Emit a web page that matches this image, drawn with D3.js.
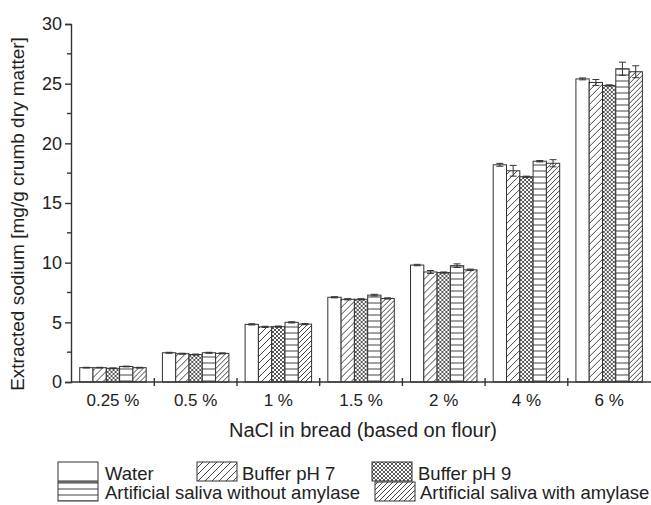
<!DOCTYPE html>
<html><head><meta charset="utf-8">
<script src="https://cdn.jsdelivr.net/npm/d3@7/dist/d3.min.js"></script>
<style>body{margin:0;background:#fff}svg{display:block}text{font-family:"Liberation Sans",Arial,sans-serif;fill:#222}</style>
</head><body><svg id="c" width="651" height="505"></svg>
<script>
const categories = ["0.25 %","0.5 %","1 %","1.5 %","2 %","4 %","6 %"];
const seriesNames = ["Water","Buffer pH 7","Buffer pH 9","Artificial saliva without amylase","Artificial saliva with amylase"];
const water    = [1.2, 2.45, 4.83, 7.1, 9.8, 18.2, 25.4];
const buffer7  = [1.2, 2.37, 4.62, 6.93, 9.22, 17.7, 25.1];
const buffer9  = [1.15, 2.3, 4.64, 6.93, 9.17, 17.2, 24.85];
const salivaWo = [1.3, 2.45, 5.0, 7.28, 9.75, 18.5, 26.25];
const salivaW  = [1.2, 2.4, 4.85, 7.0, 9.4, 18.33, 26.0];
const errWater    = [0.03, 0.04, 0.05, 0.05, 0.06, 0.12, 0.08];
const errBuffer7  = [0.03, 0.04, 0.05, 0.05, 0.12, 0.45, 0.25];
const errBuffer9  = [0.03, 0.04, 0.05, 0.05, 0.05, 0.05, 0.05];
const errSalivaWo = [0.03, 0.04, 0.05, 0.07, 0.15, 0.06, 0.55];
const errSalivaW  = [0.03, 0.04, 0.05, 0.05, 0.06, 0.3, 0.5];
const yTicks = [0, 5, 10, 15, 20, 25, 30];

const values = [water, buffer7, buffer9, salivaWo, salivaW];
const errors = [errWater, errBuffer7, errBuffer9, errSalivaWo, errSalivaW];
const fills = ["#fff","url(#p7)","url(#p9)","url(#ph)","url(#pw)"];
const ink = "#333";

const svg = d3.select("#c");
const defs = svg.append("defs");
function diag(id, s){
  const p = defs.append("pattern").attr("id",id).attr("patternUnits","userSpaceOnUse").attr("width",s).attr("height",s);
  p.append("rect").attr("width",s).attr("height",s).attr("fill","#fff");
  p.append("path").attr("d",`M0,${s} L${s},0 M${-s/2},${s/2} L${s/2},${-s/2} M${s/2},${s*1.5} L${s*1.5},${s/2}`).attr("stroke","#444").attr("stroke-width",1);
}
diag("p7",7); diag("pw",5);
{
  const s=4, p = defs.append("pattern").attr("id","p9").attr("patternUnits","userSpaceOnUse").attr("width",s).attr("height",s);
  p.append("rect").attr("width",s).attr("height",s).attr("fill","#fff");
  p.append("path").attr("d",`M0,0 L${s},${s} M0,${s} L${s},0`).attr("stroke","#444").attr("stroke-width",0.9);
}
{
  const p = defs.append("pattern").attr("id","ph").attr("patternUnits","userSpaceOnUse").attr("width",6).attr("height",6);
  p.append("rect").attr("width",6).attr("height",6).attr("fill","#fff");
  p.append("line").attr("x1",0).attr("x2",6).attr("y1",3).attr("y2",3).attr("stroke","#444").attr("stroke-width",1);
}

const x0 = d3.scaleBand().domain(categories).range([71.6, 650.5]).padding(0);
const x1 = d3.scaleBand().domain(d3.range(5)).range([0, x0.bandwidth()]).paddingInner(0).paddingOuter(0.61);
const y = d3.scaleLinear().domain([0, 30]).range([382, 24]);

// bars
categories.forEach((c, ci) => {
  const g = svg.append("g").attr("transform", `translate(${x0(c)},0)`);
  values.forEach((vals, si) => {
    const v = vals[ci], e = errors[si][ci];
    const bx = x1(si), bw = x1.bandwidth();
    g.append("rect").attr("x", bx).attr("y", y(v)).attr("width", bw).attr("height", y(0) - y(v))
      .attr("fill", fills[si]).attr("stroke", ink).attr("stroke-width", 1);
    const cx = bx + bw/2;
    g.append("line").attr("x1",cx).attr("x2",cx).attr("y1",y(v-e)).attr("y2",y(v+e)).attr("stroke",ink);
    g.append("line").attr("x1",cx-3.5).attr("x2",cx+3.5).attr("y1",y(v+e)).attr("y2",y(v+e)).attr("stroke",ink);
    g.append("line").attr("x1",cx-3.5).attr("x2",cx+3.5).attr("y1",y(v-e)).attr("y2",y(v-e)).attr("stroke",ink);
  });
});

// y axis
const yAxis = d3.axisLeft(y).tickValues(yTicks).tickSize(6).tickPadding(3).tickFormat(d3.format("d"));
const ya = svg.append("g").attr("transform","translate(71,0)").call(yAxis);
ya.select(".domain").attr("stroke", ink).attr("stroke-width",1.4);
ya.selectAll(".tick line").attr("stroke", ink).attr("stroke-width",1.4);
ya.selectAll("text").attr("font-size", 18).attr("fill","#222").attr("font-family","Liberation Sans, Arial, sans-serif");
const minor = d3.range(2.5, 30, 5);
svg.append("g").selectAll("line").data(minor).join("line")
  .attr("x1", 67).attr("x2", 71).attr("y1", d => y(d)).attr("y2", d => y(d)).attr("stroke", ink).attr("stroke-width",1.4);

// x axis
svg.append("line").attr("x1",71).attr("x2",651).attr("y1",y(0)).attr("y2",y(0)).attr("stroke",ink).attr("stroke-width",1.4);
svg.append("g").selectAll("line").data(categories.slice(1)).join("line")
  .attr("x1", d => x0(d)).attr("x2", d => x0(d)).attr("y1", y(0)-4).attr("y2", y(0)+4).attr("stroke", ink).attr("stroke-width",1.4);
svg.append("g").selectAll("text").data(categories).join("text")
  .attr("x", d => x0(d) + x0.bandwidth()/2).attr("y", 406).attr("text-anchor","middle").attr("font-size",17).text(d => d);

// titles
svg.append("text").attr("x", 363).attr("y", 437).attr("text-anchor","middle").attr("font-size",20).text("NaCl in bread (based on flour)");
svg.append("text").attr("transform","translate(24,214) rotate(-90)").attr("text-anchor","middle").attr("font-size",19).text("Extracted sodium [mg/g crumb dry matter]");

// legend
const leg = [
  {i:0, bx:58, by:462, tx:105, ty:480},
  {i:1, bx:197, by:462, tx:242, ty:480},
  {i:2, bx:372, by:462, tx:418, ty:480},
  {i:3, bx:58, by:482, tx:105, ty:499},
  {i:4, bx:375, by:482, tx:420, ty:499}
];
leg.forEach(l => {
  svg.append("rect").attr("x", l.bx).attr("y", l.by).attr("width", 40).attr("height", 19)
    .attr("fill", fills[l.i]).attr("stroke", ink).attr("stroke-width",1);
  svg.append("text").attr("x", l.tx).attr("y", l.ty).attr("font-size", 18.5).text(seriesNames[l.i]);
});
</script></body></html>
